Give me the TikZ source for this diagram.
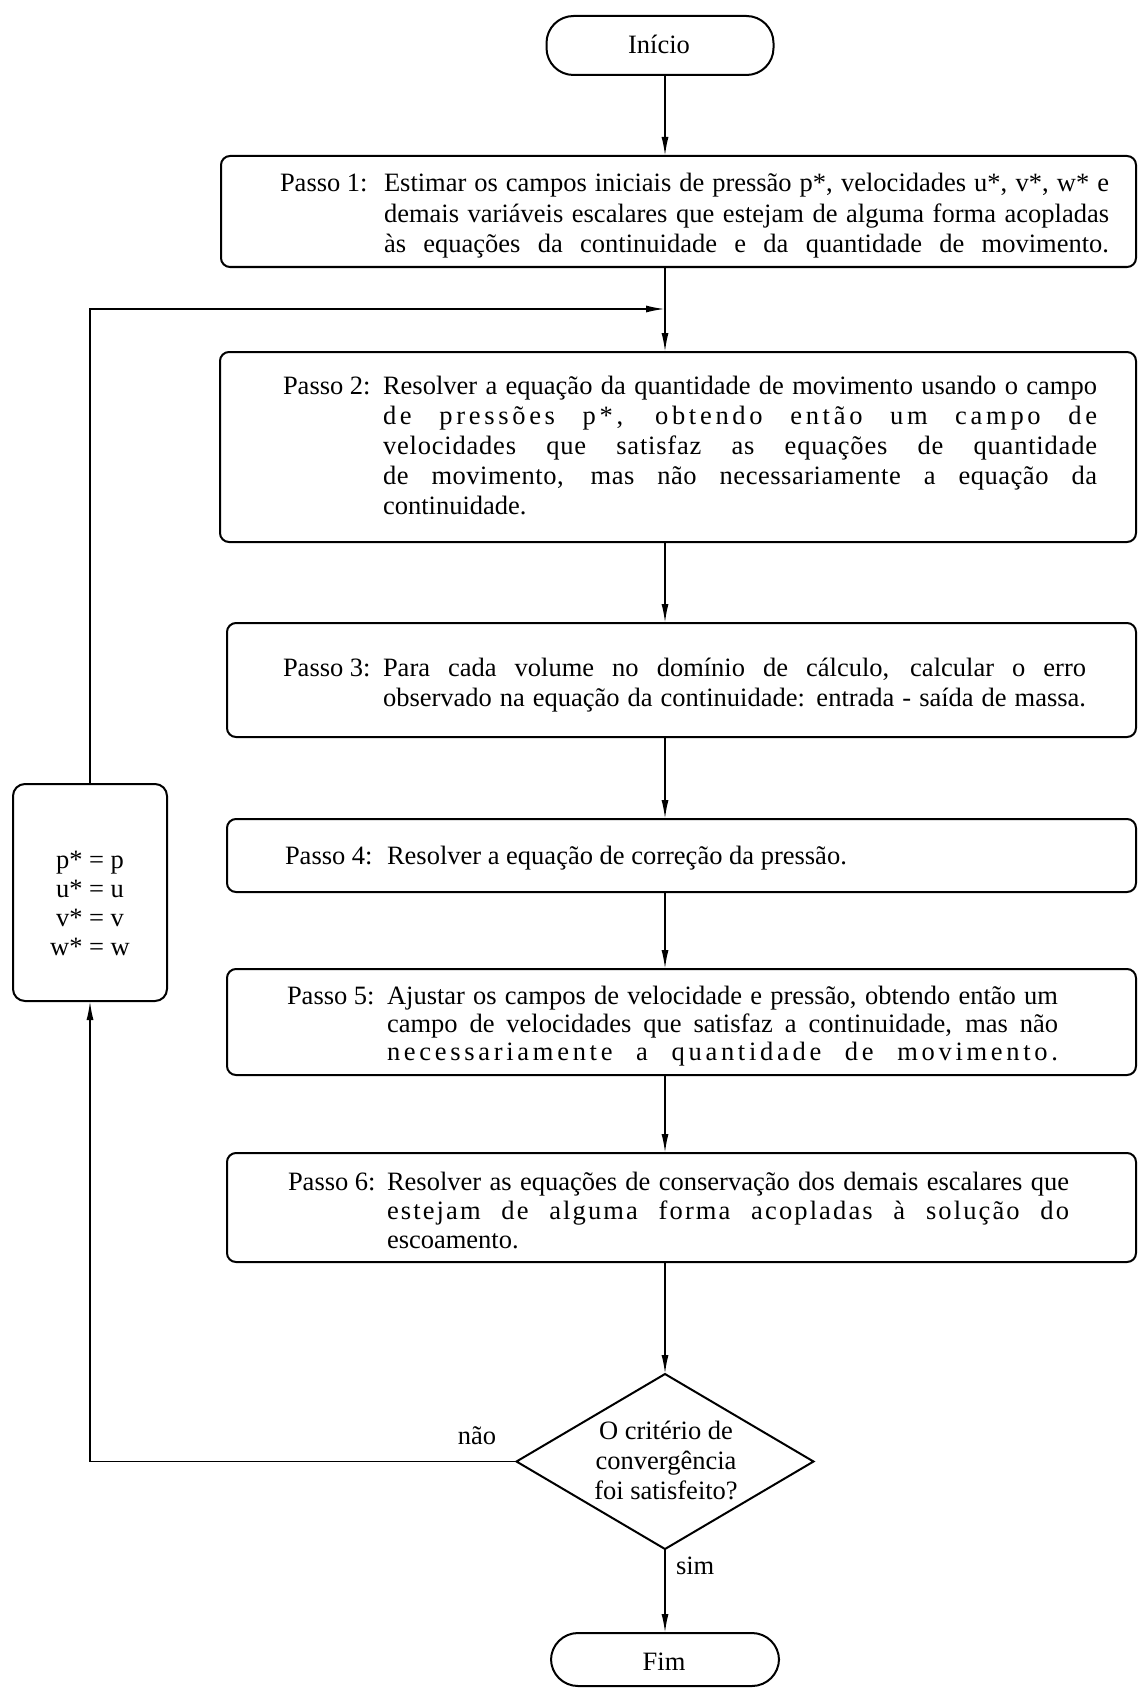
\documentclass[tikz,border=0pt]{standalone}
\usepackage{fontspec}
\setmainfont{Liberation Serif}
\usetikzlibrary{shapes.geometric,arrows.meta,calc}
\newcommand{\jline}[2]{\makebox[#1][s]{#2}}
\newcommand{\spc}[1]{\addfontfeatures{LetterSpace=#1}}
\begin{document}
\begin{tikzpicture}[x=1pt,y=-1pt,
  every node/.style={inner sep=0pt, outer sep=0pt},
  stepbox/.style={draw, line width=2pt, rounded corners=9pt, anchor=north west},
  term/.style={draw, line width=2pt, rounded corners=27pt},
  txt/.style={anchor=base west, font=\fontsize{26.5}{30}\selectfont},
  ctxt/.style={anchor=base, font=\fontsize{26.5}{30}\selectfont},
  link/.style={line width=1.7pt, -{Latex[length=19pt,width=7pt]}},
]
\useasboundingbox (0,0) rectangle (1139,1688);
\fill[white] (0,0) rectangle (1139,1688);
\coordinate (ax) at (665,0);
\coordinate (j) at (665,309);

% terminals
\node[term, minimum width=227pt, minimum height=59pt] (ini) at (660,45.5) {};
\node[ctxt] (tini) at (659,54) {Início};
\node[term, minimum width=228pt, minimum height=53pt] (fim) at (665,1659.5) {};
\node[ctxt] (tfim) at (664,1670) {Fim};

% step 1
\node[stepbox, minimum width=915pt, minimum height=111pt] (p1) at (221,156) {};
\node[txt] (l1) at (280,192) {Passo 1:};
\node[txt] (b1) at (384,192) {\parbox[t]{725pt}{\setlength\baselineskip{30.5pt}%
\jline{725pt}{Estimar os campos iniciais de pressão p*, velocidades u*, v*, w* e}\\
\jline{725pt}{demais variáveis escalares que estejam de alguma forma acopladas}\\
\jline{725pt}{às equações da continuidade e da quantidade de movimento.}}};

% step 2
\node[stepbox, minimum width=916pt, minimum height=190pt] (p2) at (220,352) {};
\node[txt] (l2) at (283,394) {Passo 2:};
\node[txt] (b2) at (383,394) {\parbox[t]{714pt}{\setlength\baselineskip{30pt}%
\jline{714pt}{Resolver a equação da quantidade de movimento usando o campo}\\
\jline{714pt}{\spc{14}de pressões p*, obtendo então um campo de}\\
\jline{714pt}{\spc{3}velocidades que satisfaz as equações de quantidade}\\
\jline{714pt}{\spc{2}de movimento, mas não necessariamente a equação da}\\
continuidade.}};

% step 3
\node[stepbox, minimum width=909pt, minimum height=114pt] (p3) at (227,623) {};
\node[txt] (l3) at (283,676) {Passo 3:};
\node[txt] (b3) at (383,676) {\parbox[t]{703pt}{\setlength\baselineskip{30pt}%
\jline{703pt}{Para cada volume no domínio de cálculo, calcular o erro}\\
\jline{703pt}{observado na equação da continuidade: entrada - saída de massa.}}};

% step 4
\node[stepbox, minimum width=909pt, minimum height=73pt] (p4) at (227,819) {};
\node[txt] (l4) at (285,864) {Passo 4:};
\node[txt] (b4) at (387,864) {Resolver a equação de correção da pressão.};

% step 5
\node[stepbox, minimum width=909pt, minimum height=106pt] (p5) at (227,969) {};
\node[txt] (l5) at (287,1004) {Passo 5:};
\node[txt] (b5) at (387,1004) {\parbox[t]{671pt}{\setlength\baselineskip{28pt}%
\jline{671pt}{Ajustar os campos de velocidade e pressão, obtendo então um}\\
\jline{671pt}{campo de velocidades que satisfaz a continuidade, mas não}\\
\jline{671pt}{\spc{14}necessariamente a quantidade de movimento.}}};

% step 6
\node[stepbox, minimum width=909pt, minimum height=109pt] (p6) at (227,1153) {};
\node[txt] (l6) at (288,1190) {Passo 6:};
\node[txt] (b6) at (387,1190) {\parbox[t]{682pt}{\setlength\baselineskip{29pt}%
\jline{682pt}{Resolver as equações de conservação dos demais escalares que}\\
\jline{682pt}{\spc{8}estejam de alguma forma acopladas à solução do}\\
escoamento.}};

% update box
\node[stepbox, rounded corners=12pt, minimum width=154pt, minimum height=217pt] (lb) at (13,784) {};
\node[ctxt] (tlb) at (90,868) {\parbox[t]{150pt}{\centering\setlength\baselineskip{29pt}%
p* = p\\u* = u\\v* = v\\w* = w}};

% decision
\node[draw, diamond, line width=2pt, minimum width=297pt, minimum height=175pt] (dm) at (665,1461.5) {};
\node[ctxt] (tdm) at (666,1439) {\parbox[t]{220pt}{\centering\setlength\baselineskip{30pt}%
O critério de\\convergência\\foi satisfeito?}};
\node[ctxt] (nao) at (477,1444) {não};
\node[txt] (sim) at (676,1574) {sim};

% connectors
\draw[link] (ini.south -| ax) -- (p1.north -| ax);
\draw[link] (p1.south -| ax) -- (p2.north -| ax);
\draw[link] (lb.north) -- (lb.north |- j) -- (j);
\draw[link] (p2.south -| ax) -- (p3.north -| ax);
\draw[link] (p3.south -| ax) -- (p4.north -| ax);
\draw[link] (p4.south -| ax) -- (p5.north -| ax);
\draw[link] (p5.south -| ax) -- (p6.north -| ax);
\draw[link] (p6.south -| ax) -- (dm.north);
\draw[link] (dm.south) -- (fim.north);
\draw[link] (dm.west) -| (lb.south);
\end{tikzpicture}
\end{document}
